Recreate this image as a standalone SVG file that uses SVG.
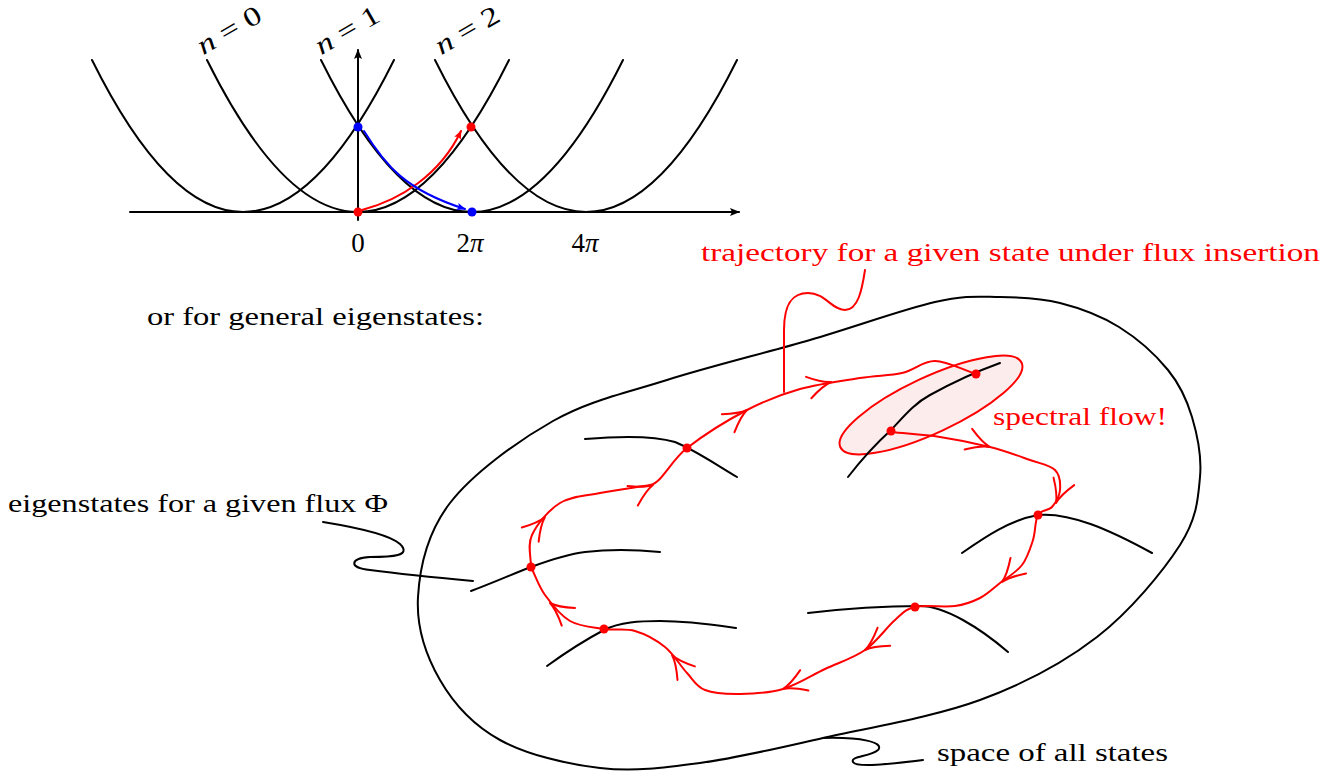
<svg xmlns="http://www.w3.org/2000/svg" xmlns:xlink="http://www.w3.org/1999/xlink" width="1340" height="777" viewBox="0 0 1340 777">
<style>
.k{fill:none;stroke:#000;stroke-width:2;stroke-linecap:round;stroke-linejoin:round}
.r{fill:none;stroke:#ff0000;stroke-width:2;stroke-linecap:round;stroke-linejoin:round}
.b{fill:none;stroke:#0000ff;stroke-width:2;stroke-linecap:round}
.t{font-family:"Liberation Serif",serif;font-size:26px;fill:#000}
.tr{font-family:"Liberation Serif",serif;font-size:26px;fill:#ff0000}
.m{font-family:"Liberation Serif",serif;font-size:27px;fill:#000}
.rd{fill:#ff0000}
.bd{fill:#0000ff}
</style>
<defs>
<marker id="ak" viewBox="0 0 10 10" refX="9" refY="5" markerWidth="10" markerHeight="10" markerUnits="userSpaceOnUse" orient="auto"><path d="M0,1 L10,5 L0,9 L2,5 Z" fill="#000"/></marker>
<marker id="ar" viewBox="0 0 10 10" refX="9" refY="5" markerWidth="9" markerHeight="9" markerUnits="userSpaceOnUse" orient="auto"><path d="M0,1 L10,5 L0,9 L2,5 Z" fill="#ff0000"/></marker>
<marker id="ab" viewBox="0 0 10 10" refX="9" refY="5" markerWidth="9" markerHeight="9" markerUnits="userSpaceOnUse" orient="auto"><path d="M0,1 L10,5 L0,9 L2,5 Z" fill="#0000ff"/></marker>
<path id="ch" d="M-23,-11 C-14,-5 -6,-1 0,0 C-6,1 -14,5 -23,11" class="r"/>
</defs>

<g id="top-plot">
  <g id="axes">
    <path class="k" d="M130,212 H739" marker-end="url(#ak)"/>
    <path class="k" d="M358,220 V50" marker-end="url(#ak)"/>
  </g>
  <g id="parabolas">
    <path class="k" d="M92,60 Q243,364 394,60"/>
    <path class="k" d="M207,60 Q358,364 509,60"/>
    <path class="k" d="M321,60 Q472,364 623,60"/>
    <path class="k" d="M435,60 Q586,364 737,60"/>
  </g>
  <g id="band-labels">
    <text class="m" transform="translate(229,30) rotate(-30)" x="0" y="9" text-anchor="middle" textLength="70" lengthAdjust="spacingAndGlyphs"><tspan font-style="italic">n</tspan> = 0</text>
    <text class="m" transform="translate(347,30) rotate(-30)" x="0" y="9" text-anchor="middle" textLength="70" lengthAdjust="spacingAndGlyphs"><tspan font-style="italic">n</tspan> = 1</text>
    <text class="m" transform="translate(467,30) rotate(-30)" x="0" y="9" text-anchor="middle" textLength="70" lengthAdjust="spacingAndGlyphs"><tspan font-style="italic">n</tspan> = 2</text>
  </g>
  <g id="tick-labels">
    <text class="m" x="358" y="252" text-anchor="middle">0</text>
    <text class="m" x="470" y="252" text-anchor="middle">2<tspan font-style="italic">π</tspan></text>
    <text class="m" x="585" y="252" text-anchor="middle">4<tspan font-style="italic">π</tspan></text>
  </g>
  <g id="top-flow">
    <path class="r" d="M362,210 C400,200 440,175 461,131" marker-end="url(#ar)"/>
    <path class="b" d="M364,131 C385,165 405,190 465,209" marker-end="url(#ab)"/>
    <circle class="rd" cx="358" cy="212" r="4.5"/>
    <circle class="rd" cx="471" cy="127" r="4.5"/>
    <circle class="bd" cx="358" cy="127" r="4.5"/>
    <circle class="bd" cx="472" cy="212" r="4.5"/>
  </g>
</g>

<text class="t" x="147" y="325" textLength="337" lengthAdjust="spacingAndGlyphs">or for general eigenstates:</text>

<g id="state-space">
  <path class="k" d="M418,597 C419.7,567.5 427.5,532.3 450,503 S516.8,441.5 553,421 S624.2,393.5 667,380 S765.3,353 810,340 S903.3,309.2 935,302 S979.2,296.8 1000,297 S1040.2,298 1060,303 S1101,315.8 1119,327 S1155.8,355 1168,370 S1186.7,399.2 1192,417 S1202,455.7 1200,477 S1197.2,518.3 1180,545 S1130.3,611.2 1097,637 S1025.7,683.2 980,700 S869.7,727.5 823,738 S737.2,758 700,763 S633.3,771.8 600,768 S526.7,754.7 500,740 S453.7,703.8 440,680 S416.3,626.5 418,597 Z"/>
</g>

<g id="spectral-flow-ellipse">
  <ellipse cx="931" cy="405" rx="100" ry="28" transform="rotate(-25 931 405)" fill="#fdecec" stroke="#ff0000" stroke-width="2"/>
</g>

<g id="eigenstates">
  <path id="e1" class="k" d="M585,439 C620,436 655,436 675,442 C695,450 715,464 737,477"/>
  <path id="e2" class="k" d="M848,477 C865,455 880,440 891,430 C905,415 915,403 930,395 C950,384 975,372 1000,363"/>
  <path id="e3" class="k" d="M471,591 C495,582 515,573 531,567 C550,560 568,554 585,552 C610,549 640,550 660,552"/>
  <path id="e4" class="k" d="M962,553 C985,537 1010,520 1038,515 C1070,512 1110,530 1152,553"/>
  <path id="e5" class="k" d="M547,666 C565,653 585,640 604,630 C620,622 640,621 660,621 C690,621 715,625 736,628"/>
  <path id="e6" class="k" d="M808,613 C850,608 890,606 920,606 C945,606 980,628 1008,652"/>
</g>

<g id="connectors">
  <path id="traj1" class="r" d="M531,567 C531,556 527.2,545.7 532,535 S548.7,510 560,503 S585,496 600,493 S638,487 650,485 S670.8,460.5 687,448 S728.2,419.8 747,410 S781.2,394.3 800,389 S843,380.7 860,378 S889.5,375.8 902,373 S922.7,360.8 935,361 S962.3,369.7 976,374"/>
  <path id="traj2" class="r" d="M891,432 C907.3,433.7 923.5,434.5 940,437 S975,443.2 990,447 S1019.2,456.2 1030,460 S1050,465 1055,470 S1060.5,483.8 1060,490 S1055.7,502.8 1052,507 S1041.2,509.5 1038,515 S1035.7,531.7 1033,540 S1027.5,557.8 1022,565 S1007,577.5 1000,583 S987.5,594.2 980,598 S965.8,604.5 955,606 S925,604.7 915,607 S903.3,612.8 895,620 S876.7,641.8 865,650 S838.7,662.5 825,669 S797.2,684.8 783,689 S753,693.8 740,694 S713.8,693.5 705,690 S693.7,680.2 687,673 S673.7,654 665,647 S645.2,634 635,631 S614.8,630.7 604,629 S579.8,626.7 570,621 S551.5,604 545,595 S535.7,576.3 531,567"/>
  <g id="traj-arrows">
    <use xlink:href="#ch" transform="translate(545,517) rotate(-50)"/>
    <use xlink:href="#ch" transform="translate(653,485) rotate(-28)"/>
    <use xlink:href="#ch" transform="translate(747,410) rotate(-35)"/>
    <use xlink:href="#ch" transform="translate(831,382) rotate(-14)"/>
    <use xlink:href="#ch" transform="translate(990,447) rotate(20)"/>
    <use xlink:href="#ch" transform="translate(1056,503) rotate(110)"/>
    <use xlink:href="#ch" transform="translate(1002,582) rotate(135)"/>
    <use xlink:href="#ch" transform="translate(865,650) rotate(145)"/>
    <use xlink:href="#ch" transform="translate(783,689) rotate(158)"/>
    <use xlink:href="#ch" transform="translate(672,655) rotate(-128)"/>
    <use xlink:href="#ch" transform="translate(550,603) rotate(-143)"/>
  </g>
  <path id="leader-traj" class="r" d="M784,392 L784,330 C784,300 795,293 808,293 C825,293 832,310 845,310 C858,310 862,290 865,270"/>
  <path id="leader-eig" class="k" d="M323,522 C360,528 390,535 400,544 C412,556 392,557 370,557 C350,558 348,568 370,570 C400,574 440,578 473,581"/>
  <path id="leader-space" class="k" d="M823,738 C860,737 885,742 878,750 C870,757 850,756 853,762 C856,768 890,764 923,760"/>
</g>

<g id="dots">
  <circle class="rd" cx="531" cy="567" r="4.5"/>
  <circle class="rd" cx="687" cy="448" r="4.5"/>
  <circle class="rd" cx="604" cy="629" r="4.5"/>
  <circle class="rd" cx="915" cy="607" r="4.5"/>
  <circle class="rd" cx="1038" cy="515" r="4.5"/>
  <circle class="rd" cx="891" cy="431" r="4.5"/>
  <circle class="rd" cx="976" cy="374" r="4.5"/>
</g>

<g id="labels">
  <text class="tr" x="701" y="261" textLength="619" lengthAdjust="spacingAndGlyphs">trajectory for a given state under flux insertion</text>
  <text class="tr" x="993" y="425" textLength="174" lengthAdjust="spacingAndGlyphs">spectral flow!</text>
  <text class="t" x="8" y="512" textLength="380" lengthAdjust="spacingAndGlyphs">eigenstates for a given flux Φ</text>
  <text class="t" x="937" y="761" textLength="231" lengthAdjust="spacingAndGlyphs">space of all states</text>
</g>
</svg>
